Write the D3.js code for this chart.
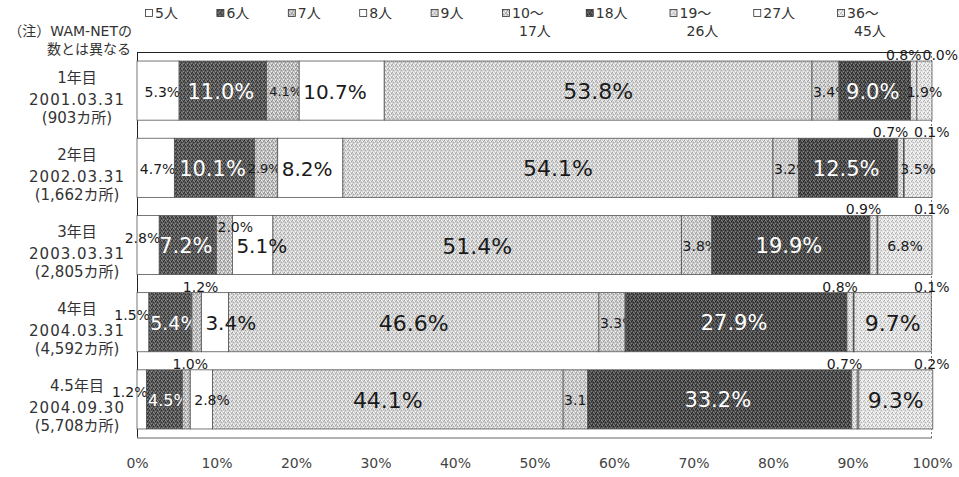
<!DOCTYPE html>
<html>
<head>
<meta charset="utf-8">
<script src="https://cdn.jsdelivr.net/npm/d3@7"></script>
<style>
  body { margin: 0; background: #fff; }
  text { font-family: "DejaVu Sans", "Noto Sans CJK JP", sans-serif; }
</style>
</head>
<body>
<div class="chart"></div>
<script>
// categories (legend order)
const categories = ["5人", "6人", "7人", "8人", "9人", "10～17人", "18人", "19～26人", "27人", "36～45人"];
const legendLines = [["5人"], ["6人"], ["7人"], ["8人"], ["9人"], ["10～", "17人"], ["18人"], ["19～", "26人"], ["27人"], ["36～", "45人"]];

// rows
const rowYears = ["1年目", "2年目", "3年目", "4年目", "4.5年目"];
const rowDates = ["2001.03.31", "2002.03.31", "2003.03.31", "2004.03.31", "2004.09.30"];
const rowCounts = ["(903カ所)", "(1,662カ所)", "(2,805カ所)", "(4,592カ所)", "(5,708カ所)"];

// shares (%) per row, in category order
const year1 = [5.3, 11.0, 4.1, 10.7, 53.8, 3.4, 9.0, 0.8, 0.0, 1.9];
const year2 = [4.7, 10.1, 2.9, 8.2, 54.1, 3.2, 12.5, 0.7, 0.1, 3.5];
const year3 = [2.8, 7.2, 2.0, 5.1, 51.4, 3.8, 19.9, 0.9, 0.1, 6.8];
const year4 = [1.5, 5.4, 1.2, 3.4, 46.6, 3.3, 27.9, 0.8, 0.1, 9.7];
const year45 = [1.2, 4.5, 1.0, 2.8, 44.1, 3.1, 33.2, 0.7, 0.2, 9.3];

const xTicks = [0, 10, 20, 30, 40, 50, 60, 70, 80, 90, 100];

const series = [year1, year2, year3, year4, year45];
const rows = rowYears.map((r, i) => {
  const o = { row: r };
  categories.forEach((c, j) => (o[c] = series[i][j]));
  return o;
});

const width = 959, height = 477;
const svg = d3.select(".chart").append("svg")
  .attr("width", width)
  .attr("height", height)
  .style("background", "#fff");

// stippled fills, like the scanned print
const defs = svg.append("defs");
function stipple(id, base, dark, light) {
  const p = defs.append("pattern")
    .attr("id", id)
    .attr("patternUnits", "userSpaceOnUse")
    .attr("width", 4).attr("height", 4);
  p.append("rect").attr("width", 4).attr("height", 4).attr("fill", base);
  [[0, 0, dark], [2, 1, light], [1, 2, dark], [3, 3, light], [3, 1, dark], [1, 0, light]].forEach(d => {
    p.append("rect").attr("x", d[0]).attr("y", d[1]).attr("width", 1).attr("height", 1).attr("fill", d[2]);
  });
  return "url(#" + id + ")";
}
const fills = [
  "#fff",
  stipple("p6", "#5a5a5a", "#2e2e2e", "#8a8a8a"),
  stipple("p7", "#bdbdbd", "#8f8f8f", "#eeeeee"),
  "#fff",
  stipple("p9", "#d2d2d2", "#a4a4a4", "#f6f6f6"),
  stipple("p10", "#c9c9c9", "#9a9a9a", "#f0f0f0"),
  stipple("p18", "#4e4e4e", "#262626", "#808080"),
  stipple("p19", "#dadada", "#ababab", "#fafafa"),
  "#fff",
  stipple("p36", "#e0e0e0", "#b2b2b2", "#ffffff")
];

const x = d3.scaleLinear().domain([0, 100]).range([137, 932]);
const y = d3.scaleBand().domain(rowYears).range([52, 438]).paddingInner(0.234).paddingOuter(0.117);

// frame
const frame = svg.append("g");
frame.append("line").attr("x1", x(0)).attr("x2", x(100)).attr("y1", 52.5).attr("y2", 52.5).attr("stroke", "#222");
frame.append("line").attr("x1", x(0) + 0.5).attr("x2", x(0) + 0.5).attr("y1", 52).attr("y2", 438).attr("stroke", "#222");
frame.append("line").attr("x1", x(0)).attr("x2", x(100)).attr("y1", 438).attr("y2", 438).attr("stroke", "#999").attr("stroke-width", 1.5);
frame.append("line").attr("x1", x(100) - 0.5).attr("x2", x(100) - 0.5).attr("y1", 52).attr("y2", 438)
  .attr("stroke", "#777").attr("stroke-dasharray", "2,2");

// x axis
const axis = svg.append("g")
  .attr("transform", "translate(0,438)")
  .call(d3.axisBottom(x).tickValues(xTicks).tickFormat(d => d + "%").tickSize(0).tickPadding(20));
axis.select(".domain").remove();
axis.selectAll("text")
  .attr("font-size", 14)
  .attr("fill", "#444")
  .style("font-family", "\"DejaVu Sans\", sans-serif");

// row labels
const rowLab = svg.append("g").attr("text-anchor", "middle").attr("fill", "#333").attr("font-size", 15);
rowYears.forEach((r, i) => {
  const c = y(r) + y.bandwidth() / 2;
  rowLab.append("text").attr("x", 77).attr("y", c - 13).attr("dominant-baseline", "central").text(r);
  rowLab.append("text").attr("x", 77).attr("y", c + 9).attr("dominant-baseline", "central")
    .attr("letter-spacing", 1).text(rowDates[i]);
  rowLab.append("text").attr("x", 77).attr("y", c + 27).attr("dominant-baseline", "central").text(rowCounts[i]);
});

// note
svg.append("text").attr("x", 132).attr("y", 31).attr("text-anchor", "end").attr("dominant-baseline", "central")
  .attr("font-size", 14).attr("fill", "#333").text("（注）WAM-NETの");
svg.append("text").attr("x", 131).attr("y", 49).attr("text-anchor", "end").attr("dominant-baseline", "central")
  .attr("font-size", 14).attr("fill", "#333").text("数とは異なる");

// legend
const lx = d3.scaleLinear().domain([0, 5, 9]).range([145, 502, 837]);
const legend = svg.append("g").attr("font-size", 14).attr("fill", "#333");
categories.forEach((c, j) => {
  const g = legend.append("g").attr("transform", "translate(" + lx(j) + ",0)");
  g.append("rect").attr("x", 0.5).attr("y", 9.5).attr("width", 7).attr("height", 7)
    .attr("fill", fills[j]).attr("stroke", "#333").attr("stroke-width", 0.8);
  legendLines[j].forEach((t, k) => {
    g.append("text").attr("x", k === 0 ? 10 : 17).attr("y", 18 + k * 18).text(t);
  });
});

// bars + labels
const fmt = v => d3.format(".1f")(v) + "%";
const stacked = d3.stack().keys(categories)(rows);
const barsG = svg.append("g");
const topG = svg.append("g");

function labelSpec(ci, v, x0, x1, yTop, h) {
  const cat = categories[ci];
  const s = { x: (x0 + x1) / 2, y: yTop + h / 2 + 1, anchor: "middle", size: 14, fill: "#1a1a1a", top: false };
  if (cat === "6人" || cat === "18人") {
    s.fill = "#fff";
    if (v >= 6) { s.size = 21; s.x -= 2; }
    else { s.size = v >= 5 ? 19 : 16; s.x += 4; }
  }
  if (cat === "9人") s.size = 22;
  if (cat === "5人") {
    s.x = x1 + 1; s.anchor = "end";
    if (v < 3) s.y -= 8;
  }
  if (cat === "8人") { s.x = x0 + 4; s.anchor = "start"; s.size = v >= 3.4 ? 20 : 14; s.top = true; }
  if (cat === "10～17人") { s.x = x0 + 1; s.anchor = "start"; }
  if (cat === "7人") {
    if (v < 1.5) { s.y = yTop - 6; s.x += 4; s.top = true; }
    else if (v < 2.5) { s.x = x0 + 1; s.anchor = "start"; s.y = yTop + 12; s.top = true; }
    else { s.x = x1 + 3; s.anchor = "end"; s.size = 13; }
  }
  if (cat === "19～26人") { s.y = yTop - 6; s.x -= 10; s.top = true; s.above = true; }
  if (cat === "27人") { s.y = yTop - 6; s.anchor = "start"; s.top = true; s.after = true; }
  if (cat === "36～45人") { s.size = v >= 9 ? 22 : 14; s.top = true; }
  return s;
}

rows.forEach((r, i) => {
  const g = barsG.append("g");
  const yTop = y(r.row), h = y.bandwidth();
  let aboveEnd = 0;
  stacked.forEach((layer, j) => {
    const a = layer[i][0], b = layer[i][1];
    g.append("rect")
      .attr("x", x(a)).attr("y", yTop)
      .attr("width", x(b) - x(a)).attr("height", h)
      .attr("fill", fills[j])
      .attr("stroke", "#555").attr("stroke-width", 0.8);
    const v = r[categories[j]];
    const s = labelSpec(j, v, x(a), x(b), yTop, h);
    if (s.after) s.x = Math.max(x(100) - 18, aboveEnd + 1);
    const t = (s.top ? topG : g).append("text")
      .attr("x", s.x).attr("y", s.y)
      .attr("text-anchor", s.anchor)
      .attr("dominant-baseline", "central")
      .attr("font-size", s.size)
      .attr("fill", s.fill)
      .text(fmt(v));
    if (s.above) aboveEnd = s.x + t.node().getComputedTextLength() / 2;
  });
});
</script>
</body>
</html>
